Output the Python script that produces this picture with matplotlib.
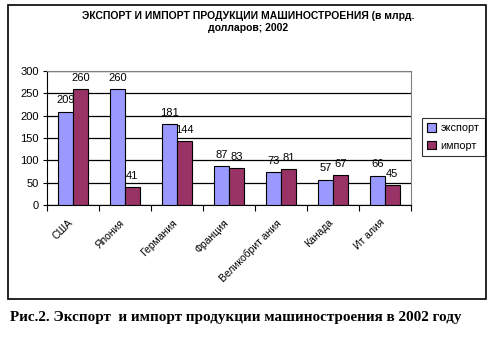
import numpy as np
import matplotlib
matplotlib.use("Agg")
import matplotlib.pyplot as plt
from matplotlib.patches import Rectangle

# данные: экспорт и импорт продукции машиностроения, млрд долл., 2002
countries = ["США", "Япония", "Германия", "Франция", "Великобрит ания", "Канада", "Ит алия"]
export = [209, 260, 181, 87, 73, 57, 66]
imports = [260, 41, 144, 83, 81, 67, 45]
yticks = [0, 50, 100, 150, 200, 250, 300]

plt.rcParams["font.family"] = ["Liberation Sans", "DejaVu Sans"]

fig = plt.figure(figsize=(4.94, 3.5), dpi=100)
ax = fig.add_axes([0.095, 0.414, 0.737, 0.383])

x = np.arange(len(countries))
w = 0.283
b1 = ax.bar(x - w / 2, export, w, color="#9999FF", edgecolor="black", linewidth=0.8,
            label="экспорт", zorder=3)
b2 = ax.bar(x + w / 2, imports, w, color="#993366", edgecolor="black", linewidth=0.8,
            label="импорт", zorder=3)
for bars in (b1, b2):
    ax.bar_label(bars, padding=4.5, fontsize=8)

ax.set_xlim(-0.5, len(countries) - 0.5)
ax.set_ylim(0, 300)
ax.set_yticks(yticks)
ax.tick_params(axis="y", labelsize=8, length=3, width=0.8, pad=3)
ax.yaxis.grid(True, color="black", linewidth=0.9, zorder=0)

# деления по границам категорий, подписи чуть левее центров
ax.set_xticks(np.arange(len(countries) + 1) - 0.5)
ax.set_xticklabels([])
ax.set_xticks(x - 0.1, minor=True)
ax.set_xticklabels(countries, minor=True, rotation=45, ha="right",
                   rotation_mode="anchor", fontsize=7.5)
ax.tick_params(axis="x", which="major", length=4, width=0.8)
ax.tick_params(axis="x", which="minor", length=0, pad=9)

for s in ("top", "right"):
    ax.spines[s].set_color("#808080")
for s in ("left", "bottom"):
    ax.spines[s].set_color("black")

leg = ax.legend(loc="upper left", bbox_to_anchor=(1.03, 0.65), fontsize=7.8,
                frameon=True, fancybox=False, edgecolor="black",
                handlelength=0.8, handleheight=0.8, handletextpad=0.4,
                borderpad=0.5, labelspacing=0.7, borderaxespad=0)
leg.get_frame().set_linewidth(0.8)

fig.text(0.502, 0.938, "ЭКСПОРТ И ИМПОРТ ПРОДУКЦИИ МАШИНОСТРОЕНИЯ (в млрд.\nдолларов; 2002",
         ha="center", va="center", fontsize=7.5, fontweight="bold", linespacing=1.3)

# рамка вокруг области диаграммы
fig.patches.append(Rectangle((0.016, 0.146), 0.968, 0.839, transform=fig.transFigure,
                             fill=False, edgecolor="black", linewidth=1.2))

fig.text(0.02, 0.094, "Рис.2. Экспорт  и импорт продукции машиностроения в 2002 году",
         ha="left", va="center", fontsize=10.9, fontweight="bold",
         family=["Liberation Serif", "DejaVu Serif"])

fig.savefig("out.png", dpi=100)
